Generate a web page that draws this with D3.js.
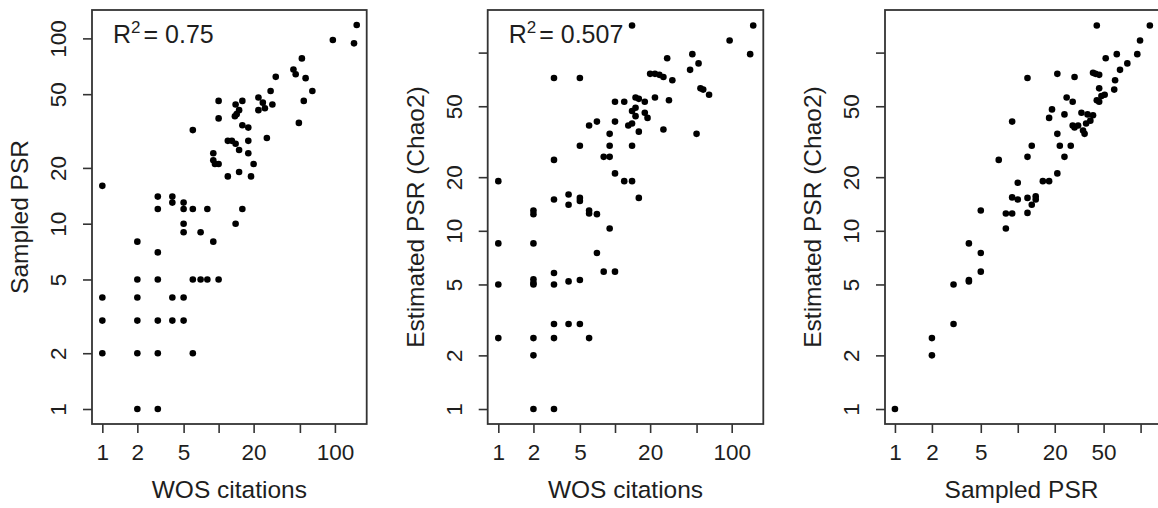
<!DOCTYPE html>
<html>
<head>
<meta charset="utf-8">
<script src="https://cdn.jsdelivr.net/npm/d3@7"></script>
<style>
  body { margin: 0; background: #fff; }
  svg { display: block; font-family: "Liberation Sans", Arial, sans-serif; }
</style>
</head>
<body>
<svg id="chart" width="1158" height="508"></svg>
<script>
// Panel 1: WOS citations vs sampled PSR
var p1Wos = [1,154,96,146,52,44,46,56,31,64,28,22,10,16,14,54,24,29,25,22,15,14.3,13.8,10,49,6,16,18,26,12,13,14,18,15,18,9,9,9.3,10,20,12,15,19,
    3,4,4,5,3,5,6,8,16,14,5,5,7,9,2,3,2,3,6,7,8,10,1,2,4,5,1,2,3,4,5,1,2,3,6,2,3];
var p1Sampled = [16,118,98,94,78,68,64,61,62,52,52,48,46,46,44,46,45,44,42,41,41,39,38,37,35,32,34,33,29,28,28,27,28,25,24,24,22,21,21,21,18,19,18,
    14,14,13,13,12,12,12,12,12,10,10,9,9,8,8,7,5,5,5,5,5,5,4,4,4,4,3,3,3,3,3,2,2,2,2,1,1];

// Panel 2: WOS citations vs estimated PSR (Chao2)
var p2Wos = [14,153,96,144,46,28,52,44,20,22,24,26,31,3,5,54,57,64,22,29,10,12,15,16,18,50,26,14,15,15,18,19,13,14,16,6,7,10,9,9,14,5,8,9,3,10,12,14,1,
    16,3,4,4,5,5,2,2,6,6,7,9,1,2,7,8,10,3,1,2,2,2,3,4,5,3,4,5,1,2,3,6,2,2,3];
var p2Chao = [142,142,117,98,98,93,87,80,76,76,75,73,70,72,72,63,62,58,56,54,53,53,56,55,53,35,37,47,49,44,46,43,39,40,36,39,41,41,35,30,30,30,26,26,25,21,19,19,19,
    15.3,15,16,14,15.3,14.7,13,12.4,13,12.5,12.4,10.3,8.5,8.5,7.5,5.9,5.9,5.8,5,5.35,5.1,5,5,5.2,5.3,3,3,3,2.5,2.5,2.5,2.5,2,1,1];

// Panel 3: sampled PSR vs estimated PSR (Chao2)
var p3Sampled = [44,119,99,64,94,52,78,68,21,29,41,43,46,12,62,46,61,51,48,44,46,25,28,19,18,24,33,37,41,39,36,9,28,29,31,34,35,21,13,22,27,12,24,7,21,
    16,18,10,9,10,12,13,14,14,5,8,9,12,8,4,5,5,3,4,4,3,2,2,1];
var p3Chao = [142,142,117,98,98,93,87,80,76,73,77,76,75,72,70,63,62,58,57,54,53,56,53,48,43,45,46,45,44.5,41.5,40,41,39,38,39,36.5,35,35,30,30,30,26,26,25,21,
    19,19,18.6,15.4,15,15.3,14,15.6,15,13,12.5,12.5,12.6,10.3,8.5,7.5,5.9,5,5.3,5.2,3,2.5,2,1];

var logTicks = [1, 2, 5, 10, 20, 50, 100];
var wosLabels = [1, 2, 5, 20, 100];
var sampledLabelsY = [1, 2, 5, 10, 20, 50, 100];
var chaoLabelsY = [1, 2, 5, 10, 20, 50];
var sampledLabelsX = [1, 2, 5, 20, 50];

var svg = d3.select('#chart');
var ink = '#1e1e1e';

var panels = [
    { left: 92, right: 366.7, xDom: [0.815, 187.7], yDom: [0.830, 142.3],
      xs: p1Wos, ys: p1Sampled, xLab: wosLabels, yLab: sampledLabelsY,
      xTitle: 'WOS citations', yTitle: 'Sampled PSR', r2: '0.75' },
    { left: 487.7, right: 763.3, xDom: [0.811, 186.6], yDom: [0.824, 173.4],
      xs: p2Wos, ys: p2Chao, xLab: wosLabels, yLab: chaoLabelsY,
      xTitle: 'WOS citations', yTitle: 'Estimated PSR (Chao2)', r2: '0.507' },
    { left: 885, right: 1160, xDom: [0.830, 143.9], yDom: [0.824, 173.4],
      xs: p3Sampled, ys: p3Chao, xLab: sampledLabelsX, yLab: chaoLabelsY,
      xTitle: 'Sampled PSR', yTitle: 'Estimated PSR (Chao2)', r2: null }
];

var plotTop = 10, plotBottom = 424;

panels.forEach(function (p) {
    var x = d3.scaleLog().domain(p.xDom).range([p.left, p.right]);
    var y = d3.scaleLog().domain(p.yDom).range([plotBottom, plotTop]);
    var g = svg.append('g');

    // x axis
    var xa = g.append('g')
        .attr('transform', 'translate(0,' + plotBottom + ')')
        .call(d3.axisBottom(x).tickValues(logTicks).tickSize(9)
            .tickFormat(function (d) { return p.xLab.indexOf(d) >= 0 ? d : ''; }));
    xa.select('.domain').remove();
    xa.selectAll('line').attr('stroke', '#333').attr('stroke-width', 1.6);
    xa.selectAll('text').attr('y', 36).attr('dy', 0)
        .attr('fill', ink).style('font-size', '22.5px');

    // y axis, labels parallel to the axis as in base R
    var ya = g.append('g')
        .attr('transform', 'translate(' + p.left + ',0)')
        .call(d3.axisLeft(y).tickValues(logTicks).tickSize(9)
            .tickFormat(function (d) { return p.yLab.indexOf(d) >= 0 ? d : ''; }));
    ya.select('.domain').remove();
    ya.selectAll('line').attr('stroke', '#333').attr('stroke-width', 1.6);
    ya.selectAll('text')
        .attr('x', 0).attr('y', -26).attr('dy', 0)
        .attr('transform', 'rotate(-90)')
        .attr('text-anchor', 'middle')
        .attr('fill', ink).style('font-size', '22.5px');

    // box
    g.append('rect')
        .attr('x', p.left).attr('y', plotTop)
        .attr('width', p.right - p.left).attr('height', plotBottom - plotTop)
        .attr('fill', 'none').attr('stroke', '#333').attr('stroke-width', 1.8);

    // points
    g.selectAll('circle')
        .data(p.xs.map(function (v, i) { return [v, p.ys[i]]; }))
        .enter().append('circle')
            .attr('cx', function (d) { return x(d[0]); })
            .attr('cy', function (d) { return y(d[1]); })
            .attr('r', 3.3)
            .attr('fill', '#000');

    // titles
    g.append('text')
        .attr('x', (p.left + Math.min(p.right, 1158)) / 2)
        .attr('y', 498)
        .attr('text-anchor', 'middle')
        .attr('fill', ink).style('font-size', '24.5px')
        .text(p.xTitle);
    g.append('text')
        .attr('transform', 'translate(' + (p.left - 64) + ',' + (plotTop + plotBottom) / 2 + ') rotate(-90)')
        .attr('text-anchor', 'middle')
        .attr('fill', ink).style('font-size', '24.5px')
        .text(p.yTitle);

    if (p.r2) {
        var t = g.append('text')
            .attr('x', p.left + 21).attr('y', 43)
            .attr('fill', ink).style('font-size', '25px');
        t.append('tspan').text('R');
        t.append('tspan').attr('dy', -10).style('font-size', '17px').text('2');
        t.append('tspan').attr('dy', 10).attr('dx', 3).text('= ' + p.r2);
    }
});
</script>
</body>
</html>
